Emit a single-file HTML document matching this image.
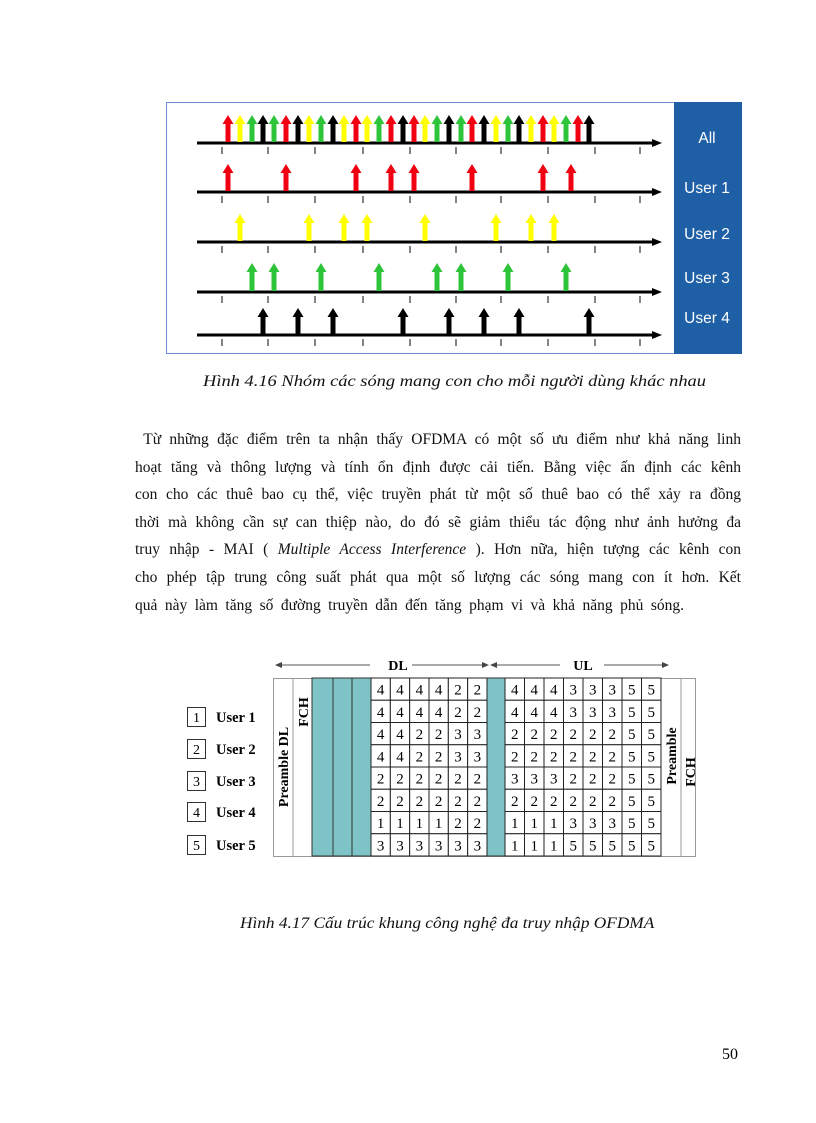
<!DOCTYPE html>
<html><head><meta charset="utf-8"><style>
body{margin:0;background:#fff;}
#pg{position:relative;width:816px;height:1123px;overflow:hidden;background:#fff;font-family:"Liberation Serif",serif;}
.ln{position:absolute;left:135px;width:606px;font-size:15.5px;text-align:justify;text-align-last:justify;white-space:nowrap;line-height:18px;color:#111;}
.cap{position:absolute;font-style:italic;font-size:15.5px;color:#111;white-space:nowrap;transform-origin:left top;}
</style></head><body><div id="pg">
<svg id="s" width="816" height="1123" style="position:absolute;left:0;top:0" xmlns="http://www.w3.org/2000/svg"></svg>
<div class="cap" style="left:203px;top:373px;transform:scaleX(1.19)">Hình 4.16 Nhóm các sóng mang con cho mỗi người dùng khác nhau</div>
<div class="ln" style="top:431px"> &nbsp;Từ những đặc điểm trên ta nhận thấy OFDMA có một số ưu điểm như khả năng linh</div>
<div class="ln" style="top:459px">hoạt tăng và thông lượng và tính ổn định được cải tiến. Bằng việc ấn định các kênh</div>
<div class="ln" style="top:486px">con cho các thuê bao cụ thể, việc truyền phát từ một số thuê bao có thể xảy ra đồng</div>
<div class="ln" style="top:514px">thời mà không cần sự can thiệp nào, do đó sẽ giảm thiểu tác động như ảnh hưởng đa</div>
<div class="ln" style="top:541px">truy nhập - MAI ( <i>Multiple Access Interference</i> ). Hơn nữa, hiện tượng các kênh con</div>
<div class="ln" style="top:569px">cho phép tập trung công suất phát qua một số lượng các sóng mang con ít hơn. Kết</div>
<div class="ln" style="top:597px;text-align-last:left;text-align:left;width:auto;word-spacing:3.6px">quả này làm tăng số đường truyền dẫn đến tăng phạm vi và khả năng phủ sóng.</div>
<div class="cap" style="left:240px;top:915px;transform:scaleX(1.115)">Hình 4.17 Cấu trúc khung công nghệ đa truy nhập OFDMA</div>
<div style="position:absolute;left:722px;top:1046px;font-size:16px">50</div>
</div>
<script>
var s=document.getElementById('s'),h='';
h+='<rect x="166.5" y="102.5" width="575" height="251" fill="#fff" stroke="#6a8fd0" stroke-width="1"/>';
h+='<rect x="674" y="102" width="68" height="252" fill="#1f5fa6"/>';
var C={R:'#f00010',Y:'#ffff00',G:'#2ec43a',K:'#000'};
var ticks=[222,268,315,363,410,456,501,548,595,640];
function axis(y){h+='<line x1="197" y1="'+y+'" x2="655" y2="'+y+'" stroke="#000" stroke-width="3"/><polygon points="652,'+(y-4)+' 662,'+y+' 652,'+(y+4)+'" fill="#000"/>';
ticks.forEach(function(t){h+='<line x1="'+t+'" y1="'+(y+4)+'" x2="'+t+'" y2="'+(y+11)+'" stroke="#333" stroke-width="1.2"/>';});}
function arrow(x,y,top,c){h+='<rect x="'+(x-2.5)+'" y="'+(top+8)+'" width="5" height="'+(y-top-8)+'" fill="'+c+'"/><polygon points="'+(x-5.5)+','+(top+9)+' '+x+','+top+' '+(x+5.5)+','+(top+9)+'" fill="'+c+'"/>';}
var ax=[228,240,252,263,274,286,298,309,321,333,344,356,367,379,391,403,414,425,437,449,461,472,484,496,508,519,531,543,554,566,578,589];
var ac="RYGKGRKYGKYRYGRKRYGKGRKYGKYRYGRK";
axis(143);ax.forEach(function(x,i){arrow(x,142,115,C[ac[i]]);});
var rows=[[192,164,'R',[228,286,356,391,414,472,543,571]],[242,214,'Y',[240,309,344,367,425,496,531,554]],[292,263,'G',[252,274,321,379,437,461,508,566]],[335,308,'K',[263,298,333,403,449,484,519,589]]];
rows.forEach(function(r){axis(r[0]);r[3].forEach(function(x){arrow(x,r[0]-1,r[1],C[r[2]]);});});
[['All',143],['User 1',193],['User 2',239],['User 3',283],['User 4',323]].forEach(function(l){h+='<text x="707" y="'+l[1]+'" fill="#fff" font-family="Liberation Sans,sans-serif" font-size="15.5" text-anchor="middle">'+l[0]+'</text>';});
var F='font-family="Liberation Serif,serif"';
h+='<g stroke="#555" stroke-width="1"><line x1="278" y1="665" x2="370" y2="665"/><line x1="412" y1="665" x2="486" y2="665"/><line x1="492" y1="665" x2="560" y2="665"/><line x1="604" y1="665" x2="666" y2="665"/></g>';
h+='<g fill="#444"><polygon points="275,665 282,662 282,668"/><polygon points="489,665 482,662 482,668"/><polygon points="490,665 497,662 497,668"/><polygon points="669,665 662,662 662,668"/></g>';
h+='<text x="398" y="670" '+F+' font-size="14" font-weight="bold" text-anchor="middle">DL</text><text x="583" y="670" '+F+' font-size="14" font-weight="bold" text-anchor="middle">UL</text>';
h+='<rect x="273.5" y="678.5" width="422" height="178" fill="#fff" stroke="#999"/>';
[[312,333],[333,352],[352,371],[487,505]].forEach(function(c){h+='<rect x="'+c[0]+'" y="678" width="'+(c[1]-c[0])+'" height="178" fill="#7ec4c6" stroke="#333" stroke-width="1"/>';});
[293,681].forEach(function(x){h+='<line x1="'+x+'" y1="678" x2="'+x+'" y2="856" stroke="#999"/>';});
h+='<line x1="661" y1="678" x2="661" y2="856" stroke="#999"/>';
var dl=["444422","444422","442233","442233","222222","222222","111122","333333"];
var ul=["44433355","44433355","22222255","22222255","33322255","22222255","11133355","11155555"];
var rh=178/8;
function grid(x0,x1,n,data){var cw=(x1-x0)/n;for(var r=0;r<8;r++)for(var c=0;c<n;c++){var x=x0+c*cw,y=678+r*rh;h+='<rect x="'+x+'" y="'+y+'" width="'+cw+'" height="'+rh+'" fill="#fff" stroke="#222" stroke-width="1"/><text x="'+(x+cw/2)+'" y="'+(y+16.5)+'" '+F+' font-size="15" text-anchor="middle">'+data[r][c]+'</text>';}}
grid(371,487,6,dl);grid(505,661,8,ul);
function vt(x,y,t){h+='<text transform="translate('+x+','+y+') rotate(-90)" '+F+' font-size="14" font-weight="bold" text-anchor="middle">'+t+'</text>';}
vt(288,767,'Preamble DL');vt(308,712,'FCH');vt(676,756,'Preamble');vt(695,772,'FCH');
[717,749,781,812,845].forEach(function(y,i){h+='<rect x="187.5" y="'+(y-9.5)+'" width="18" height="19" fill="#fff" stroke="#333"/><text x="196.5" y="'+(y+5)+'" '+F+' font-size="14" text-anchor="middle">'+(i+1)+'</text><text x="216" y="'+(y+5)+'" '+F+' font-size="14.5" font-weight="bold">User '+(i+1)+'</text>';});
s.innerHTML=h;
</script>
</body></html>
